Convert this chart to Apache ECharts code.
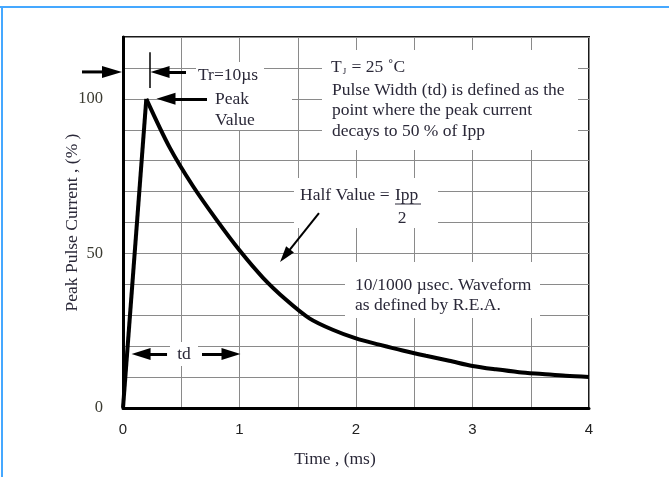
<!DOCTYPE html>
<html><head><meta charset="utf-8">
<script src="https://cdn.jsdelivr.net/npm/echarts@6/dist/echarts.min.js"></script>
<style>html,body{margin:0;padding:0;background:#fff}#c{width:669px;height:477px}</style>
</head><body><div id="c"></div>
<script>
// Waveform data (time in ms, current in % of Ipp)
const riseX = [0, 0.2];
const riseY = [0, 100];
const decayX = [0.2, 0.4, 0.6, 0.8, 1.0, 1.2, 1.4, 1.6, 1.8, 2.0, 2.2, 2.4, 2.6, 2.8, 3.0, 3.2, 3.4, 3.6, 3.8, 4.0];
const decayY = [100, 84.3, 71.8, 61, 51, 42.2, 35, 29, 25.3, 22.5, 20.5, 18.6, 16.9, 15.3, 13.6, 12.5, 11.6, 11, 10.4, 10];
const xTickLabels = ['0', '1', '2', '3', '4'];
const yTickLabels = ['0', '50', '100'];

const serif = '"Liberation Serif", "DejaVu Serif", serif';
const txtColor = '#2a2838';
const chart = echarts.init(document.getElementById('c'));

const rise = riseX.map((x, i) => [x, riseY[i]]);
const decay = decayX.map((x, i) => [x, decayY[i]]);

function arrow(a, b, w) {
  return [{coord: a, symbol: 'none', lineStyle: {width: w}}, {coord: b, symbol: 'triangle'}];
}

const option = {
  animation: false,
  backgroundColor: '#fff',
  grid: {left: 123, right: 80, top: 37, bottom: 69, show: true, borderColor: '#1a1a1a', borderWidth: 2, backgroundColor: 'transparent'},
  xAxis: {
    type: 'value', min: 0, max: 4, interval: 0.5,
    name: 'Time , (ms)', nameLocation: 'middle', nameGap: 42, nameMoveOverlap: false,
    nameTextStyle: {fontFamily: serif, fontSize: 17.5, color: txtColor, padding: [0, 42, 0, 0]},
    axisLine: {show: true, lineStyle: {color: '#000', width: 3}},
    axisTick: {show: false},
    axisLabel: {margin: 14, fontFamily: '"Liberation Sans", Arial, sans-serif', fontSize: 15, color: '#222',
      formatter: v => (Number.isInteger(v) && xTickLabels.includes(String(v))) ? String(v) : ''},
    splitLine: {show: true, lineStyle: {color: '#8a8a8a', width: 1}}
  },
  yAxis: {
    type: 'value', min: 0, max: 120, interval: 10,
    name: 'Peak Pulse Current , (% )', nameLocation: 'middle', nameGap: 42, nameMoveOverlap: false,
    nameTextStyle: {fontFamily: serif, fontSize: 17.5, color: txtColor},
    axisLine: {show: true, lineStyle: {color: '#000', width: 3}},
    axisTick: {show: false},
    axisLabel: {margin: 20, fontFamily: serif, fontSize: 16.5, color: '#3a3a30',
      formatter: v => yTickLabels.includes(String(v)) ? String(v) : ''},
    splitLine: {show: true, lineStyle: {color: '#8a8a8a', width: 1}}
  },
  series: [
    {type: 'line', data: rise, symbol: 'none', clip: false, lineStyle: {color: '#000', width: 4}, z: 5},
    {type: 'line', data: decay, symbol: 'none', clip: false, smooth: 0.3, lineStyle: {color: '#000', width: 4}, z: 5,
      markLine: {
        silent: true, animation: false, symbol: ['none', 'triangle'], symbolSize: [12, 19],
        label: {show: false},
        lineStyle: {color: '#000', type: 'solid', width: 3},
        data: [
          arrow([0.541, 108.7], [0.318, 108.7], 3),
          arrow([0.721, 100], [0.369, 100], 3),
          arrow([0.378, 17.47], [0.155, 17.47], 3),
          arrow([0.678, 17.47], [0.927, 17.47], 3),
          [{coord: [0.232, 115.1], symbol: 'none', lineStyle: {width: 1.5}}, {coord: [0.232, 103.5], symbol: 'none'}],
          [{coord: [1.682, 63.07], symbol: 'none', lineStyle: {width: 2}}, {coord: [1.391, 49.26], symbol: 'triangle', symbolSize: [10, 16]}]
        ]
      }
    }
  ]
};
chart.setOption(option);

// Arrow outside the plot area (left of the y axis), located through the axis scales
const aTip = chart.convertToPixel({gridIndex: 0}, [0, 108.7]);
const aTail = chart.convertToPixel({gridIndex: 0}, [-0.352, 108.7]);
const tipX = aTip[0] - 1, ay = aTip[1];

function box(x, y, w, h) {
  return {type: 'rect', shape: {x, y, width: w, height: h}, style: {fill: '#fff'}, z: 1, silent: true};
}
function t(text, x, y, align) {
  return {type: 'text', x, y, z: 10, silent: true,
    style: {text, fontFamily: serif, fontSize: 17.5, fill: txtColor, align: align || 'left', verticalAlign: 'middle'}};
}
chart.setOption({
  graphic: [
    {type: 'line', shape: {x1: 0, y1: 7, x2: 669, y2: 7}, style: {stroke: '#45a8ff', lineWidth: 2}, z: 20, silent: true},
    {type: 'line', shape: {x1: 2, y1: 6, x2: 2, y2: 477}, style: {stroke: '#45a8ff', lineWidth: 2}, z: 20, silent: true},
    {type: 'line', shape: {x1: aTail[0], y1: ay, x2: tipX - 12, y2: ay}, style: {stroke: '#000', lineWidth: 3}, z: 20, silent: true},
    {type: 'polygon', shape: {points: [[tipX, ay], [tipX - 20, ay - 6], [tipX - 20, ay + 6]]}, style: {fill: '#000'}, z: 20, silent: true},
    box(196, 62, 68, 24),
    box(207, 86, 85, 44),
    box(322, 50, 256, 100),
    box(294, 178, 144, 50),
    box(345, 262, 195, 56),
    box(170, 342, 28, 24),
    t('Tr=10µs', 198, 75),
    t('Peak', 215, 99),
    t('Value', 215, 120),
    {type: 'text', x: 331, y: 67, z: 10, silent: true,
      style: {text: '{a|T}{s|J}{a| = 25 ˚C}', verticalAlign: 'middle',
        rich: {a: {fontFamily: serif, fontSize: 17.5, fill: txtColor, color: txtColor},
               s: {fontFamily: serif, fontSize: 9, fill: txtColor, color: txtColor, padding: [9, 1, 0, 1]}}}},
    t('Pulse Width (td) is defined as the', 332, 90),
    t('point where the peak current', 332, 110),
    t('decays to 50 % of Ipp', 332, 131),
    t('Half Value = ', 300, 195),
    t('Ipp', 395, 195),
    {type: 'line', shape: {x1: 395, y1: 204, x2: 421, y2: 204}, style: {stroke: txtColor, lineWidth: 1}, z: 10, silent: true},
    t('2', 402, 218, 'center'),
    t('10/1000 µsec. Waveform', 355, 285),
    t('as defined by R.E.A.', 355, 305),
    t('td', 184, 354, 'center')
  ]
});
</script></body></html>
